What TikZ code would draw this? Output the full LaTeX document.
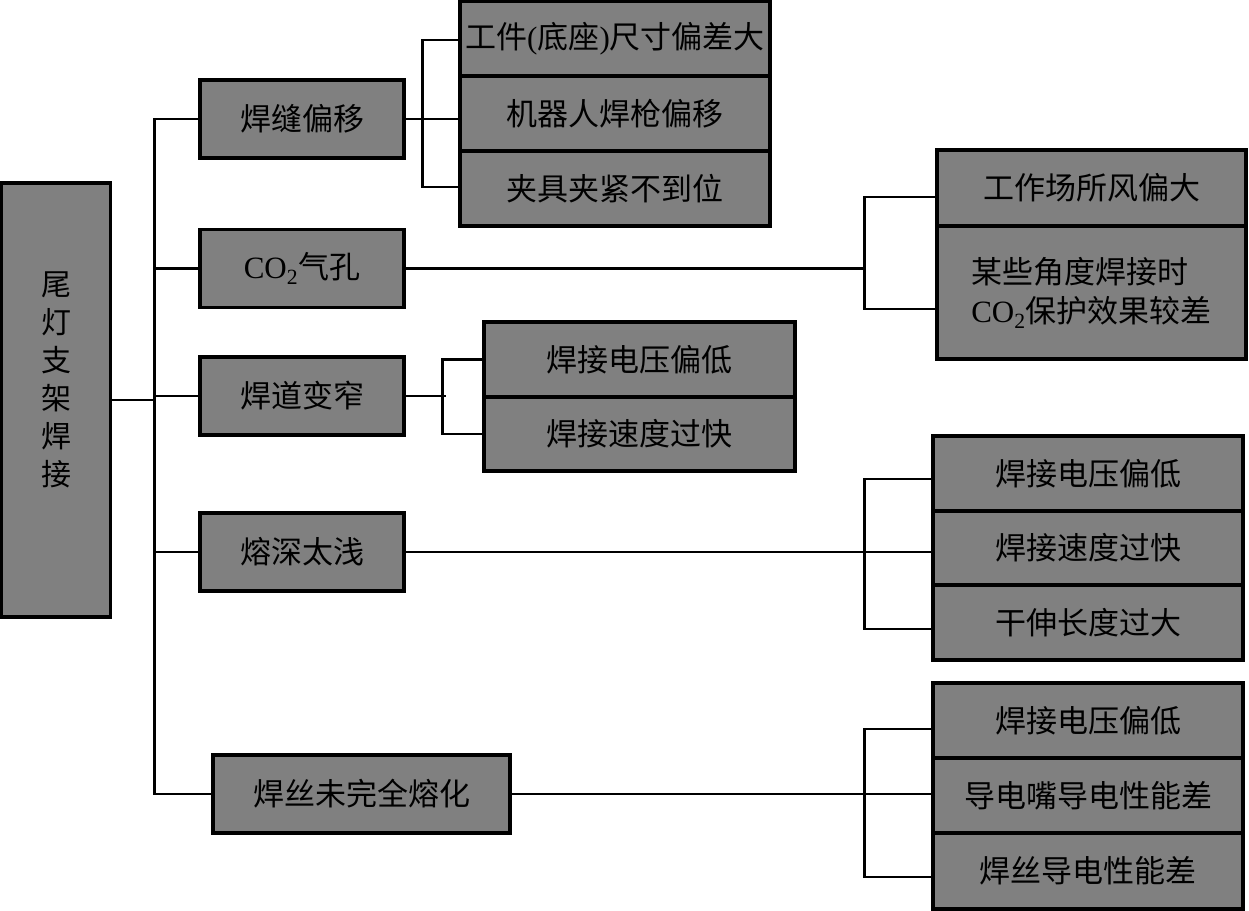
\documentclass[tikz,border=0pt]{standalone}
\usepackage{fontspec}
\setmainfont{Liberation Serif}
\newfontfamily\cjk{Noto Sans CJK SC}
\usepackage{tikz}
\usetikzlibrary{calc}
\definecolor{boxgray}{RGB}{128,128,128}

\begin{document}
\begin{tikzpicture}[x=1pt,y=-1pt,
        box/.style={draw=black, fill=boxgray, line width=3.3pt, inner sep=0pt,
            minimum width=310, minimum height=75, font=\cjk\fontsize{31}{39}\selectfont},
        link/.style={line width=2.3pt}]
        \useasboundingbox (0,0) rectangle (1249,910);

        % Root box
        \node[box, minimum width=109, minimum height=434] (root) at (56,400) {};
        \node[font=\cjk\fontsize{30}{38}\selectfont, align=center, inner sep=0pt] (rootlabel) at (56,380) {尾\\灯\\支\\架\\焊\\接};

        % First level defects
        \node[box, minimum width=204, minimum height=78] (weld) at (302,119) {焊缝偏移};
        \node[box, minimum width=204, minimum height=78] (pore) at (302,268.5) {{\rmfamily CO\textsubscript{2}}气孔};
        \node[box, minimum width=204, minimum height=78] (narrow) at (302,396) {焊道变窄};
        \node[box, minimum width=204, minimum height=78] (shallow) at (302,552) {熔深太浅};
        \node[box, minimum width=297, minimum height=78] (wire) at (361.5,794) {焊丝未完全熔化};

        % Causes
        \node[box] (weld1) at (615,39) {工件{\rmfamily (}底座{\rmfamily )}尺寸偏差大};
        \node[box] (weld2) at (615,113.5) {机器人焊枪偏移};
        \node[box] (weld3) at (615,188.5) {夹具夹紧不到位};

        \node[box, minimum width=309, minimum height=76] (pore1) at (1091.5,188) {工作场所风偏大};
        \node[box, minimum width=309, minimum height=133, align=left] (pore2) at (1091.5,292.5) {某些角度焊接时\\{\rmfamily CO\textsubscript{2}}保护效果较差};

        \node[box, minimum width=311] (narrow1) at (639.5,359.5) {焊接电压偏低};
        \node[box, minimum width=311, minimum height=74] (narrow2) at (639.5,434) {焊接速度过快};

        \node[box] (shallow1) at (1088,473.5) {焊接电压偏低};
        \node[box, minimum height=74] (shallow2) at (1088,548) {焊接速度过快};
        \node[box] (shallow3) at (1088,622.5) {干伸长度过大};

        \node[box] (wire1) at (1088,720.5) {焊接电压偏低};
        \node[box] (wire2) at (1088,795.5) {导电嘴导电性能差};
        \node[box, minimum height=76] (wire3) at (1088,871) {焊丝导电性能差};

        % Trunk
        \draw[link] (weld.west) -- ++(-44,0) coordinate (trunk) -- (trunk |- wire.west) -- (wire.west);
        \draw[link] (root.east) -- (root.east -| trunk);
        \draw[link] (pore.west) -- (pore.west -| trunk);
        \draw[link] (narrow.west) -- (narrow.west -| trunk);
        \draw[link] (shallow.west) -- (shallow.west -| trunk);

        % Brackets
        \draw[link] (weld.east) -- (weld.east -| weld2.west);
        \draw[link] (weld1.west |- 0,40) -- ++(-36,0) |- (weld3.west |- 0,187);

        \draw[link] (pore.east) -- (pore.east -| 866,0);
        \draw[link] (pore1.west |- 0,197) -- ++(-71,0) |- (pore2.west |- 0,309);

        \draw[link] (narrow.east) -- ++(40,0);
        \draw[link] (narrow1.west) -- ++(-40,0) |- (narrow2.west);

        \draw[link] (shallow.east) -- (shallow.east -| shallow2.west);
        \draw[link] (shallow1.west |- 0,479) -- ++(-67,0) |- (shallow3.west |- 0,629);

        \draw[link] (wire.east) -- (wire.east -| wire2.west);
        \draw[link] (wire1.west |- 0,729) -- ++(-67,0) |- (wire3.west |- 0,877);
    \end{tikzpicture}
\end{document}
